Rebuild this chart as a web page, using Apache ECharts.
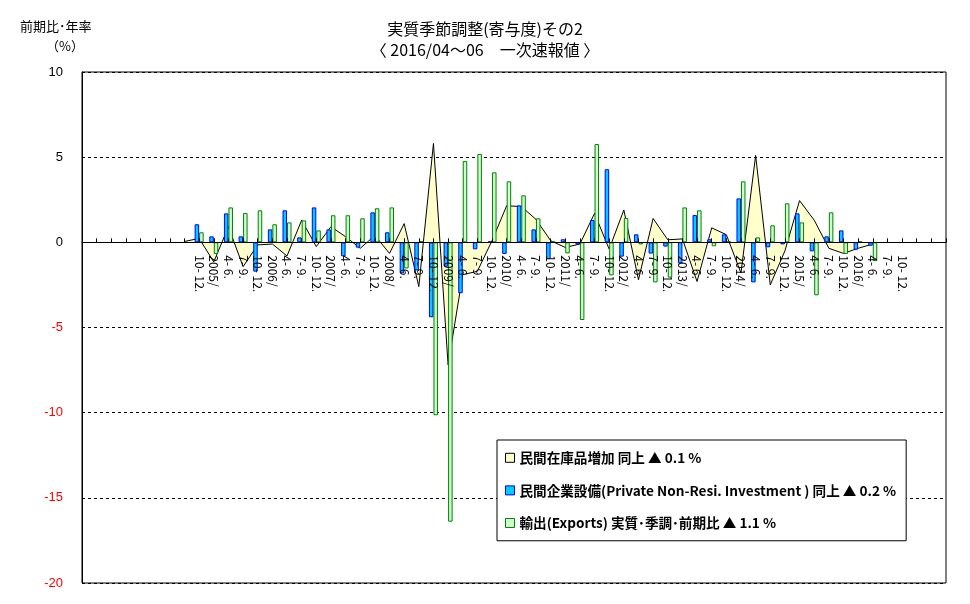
<!DOCTYPE html>
<html><head><meta charset="utf-8">
<script src="https://cdn.jsdelivr.net/npm/echarts@6/dist/echarts.min.js"></script>
<style>html,body{margin:0;padding:0;background:#fff}#c{width:970px;height:604px}</style>
</head><body><div id="c"></div>
<script>
// categories (60 positions; labels only where shown in the reference)
var categories = ['','','','','','','','',
 '10- 12.','2005/','4- 6.','7- 9.','10- 12.','2006/','4- 6.','7- 9.','10- 12.','2007/','4- 6.','7- 9.','10- 12.',
 '2008/','4- 6.','7- 9.','10- 12.','2009/','4- 6.','7- 9.','10- 12.','2010/','4- 6.','7- 9.','10- 12.',
 '2011/','4- 6.','7- 9.','10- 12.','2012/','4- 6.','7- 9.','10- 12.','2013/','4- 6.','7- 9.','10- 12.',
 '2014/','4- 6.','7- 9.','10- 12.','2015/','4- 6.','7- 9.','10- 12.','2016/','4- 6.','7- 9.','10- 12.','','',''];
var seriesNames = ['民間在庫品増加 同上 ▲ 0.1 %','民間企業設備(Private Non-Resi. Investment ) 同上 ▲ 0.2 %','輸出(Exports) 実質･季調･前期比 ▲ 1.1 %'];
var yTicks = {min: -20, max: 10, step: 5};
// inventory contribution (area), starting at index 7
var inventory = [null,null,null,null,null,null,null,0.05,
 0.23,-1.15,0.92,-1.43,-0.15,-0.1,-0.8,1.3,-0.25,0.92,0.33,-0.35,0.4,-0.65,1.1,-2.6,
 5.8,-7.2,-1.9,-1.7,0.1,2.15,2.1,1.35,0.1,-0.3,-0.1,1.7,-0.4,1.9,-2.2,1.4,
 0.15,0.2,-2.3,0.85,0.45,-1.8,5.1,-2.5,-0.5,2.45,1.3,-0.35,-0.65,-0.35,-0.1,null,null,null,null,null];
// private non-residential investment
var investment = [null,null,null,null,null,null,null,null,
 1.06,0.35,1.70,0.35,-1.72,0.76,1.88,0.29,2.05,0.76,-0.82,-0.31,1.76,0.59,-1.82,-1.65,
 -4.40,-1.43,-2.99,-0.41,0.05,-0.68,2.17,0.76,-0.98,0.18,-0.12,1.31,4.29,-0.84,0.47,-0.66,
 -0.25,-1.23,1.60,0.18,0.47,2.58,-2.35,-0.29,-0.12,1.70,-0.53,0.35,0.70,-0.43,-0.2,null,null,null,null,null];
// exports
var exportsData = [null,null,null,null,null,null,null,null,
 0.59,-0.69,2.05,1.72,1.88,1.06,1.17,1.29,0.70,1.59,1.59,1.41,2.0,2.05,-1.53,0.08,
 -10.15,-16.4,4.77,5.19,4.11,3.58,2.76,1.41,0.08,-0.65,-4.56,5.77,-1.94,1.43,-0.12,-2.35,
 -2.07,2.05,1.88,-0.23,0.08,3.58,0.29,1.00,2.29,1.17,-3.11,1.76,-0.68,0.06,-1.1,null,null,null,null,null];

var font = '"Noto Sans CJK JP", sans-serif';
var gridTop = 72, gridBottom = 21, H = 604;
var plotH = H - gridTop - gridBottom;
var zeroOffset = plotH * (0 - yTicks.min) / (yTicks.max - yTicks.min);
var chart = echarts.init(document.getElementById('c'));
chart.setOption({
  animation: false,
  backgroundColor: '#fff',
  title: {
    text: '実質季節調整(寄与度)その2',
    subtext: '〈 2016/04～06　一次速報値 〉',
    left: 'center', top: 16, itemGap: 5,
    textStyle: {fontFamily: font, fontSize: 16, fontWeight: 'normal', color: '#000'},
    subtextStyle: {fontFamily: font, fontSize: 16, color: '#000'}
  },
  graphic: [
    {type: 'text', left: 20, top: 20, style: {text: '前期比･年率', font: '13px ' + font, fill: '#000'}},
    {type: 'text', left: 46, top: 40, style: {text: '（%）', font: '13px ' + font, fill: '#000'}}
  ],
  legend: {
    orient: 'vertical', left: 497, top: 440,
    padding: [11, 10, 11, 8], itemGap: 19,
    itemWidth: 9, itemHeight: 9,
    backgroundColor: '#fff', borderColor: '#000', borderWidth: 1,
    textStyle: {fontFamily: font, fontSize: 13.6, fontWeight: 'bold', color: '#000'},
    data: [
      {name: seriesNames[0], icon: 'rect', itemStyle: {color: '#ffffcc', borderColor: '#000', borderWidth: 1}},
      {name: seriesNames[1], icon: 'rect', itemStyle: {color: '#00ccff', borderColor: '#0000ff', borderWidth: 1}},
      {name: seriesNames[2], icon: 'rect', itemStyle: {color: '#ccffcc', borderColor: '#008000', borderWidth: 1}}
    ]
  },
  grid: {left: 82, right: 24, top: gridTop, bottom: gridBottom, containLabel: false, outerBoundsMode: 'none',
         show: true, borderColor: '#000', borderWidth: 1, backgroundColor: 'transparent'},
  xAxis: {
    type: 'category', data: categories, boundaryGap: false, z: 10,
    position: 'bottom', offset: -zeroOffset,
    axisLine: {onZero: false, lineStyle: {color: '#000', width: 1}},
    axisTick: {show: true, inside: true, length: 4, interval: 0, lineStyle: {color: '#000'}},
    axisLabel: {interval: 0, rotate: -90, margin: 13, fontFamily: font, fontSize: 12, color: '#000',
                hideOverlap: false},
    splitLine: {show: false}
  },
  yAxis: {
    type: 'value', min: yTicks.min, max: yTicks.max, interval: yTicks.step,
    axisLine: {show: true, lineStyle: {color: '#000'}},
    axisTick: {show: false},
    axisLabel: {margin: 19, fontFamily: 'Liberation Sans, sans-serif', fontSize: 13,
      color: function (v) { return Number(v) < 0 ? '#ff0000' : '#000'; }},
    splitLine: {show: true, lineStyle: {color: '#000', type: [3, 3], width: 1}}
  },
  series: [
    {name: seriesNames[0], type: 'line', data: inventory, symbol: 'none', z: 1,
     lineStyle: {color: '#000', width: 1}, itemStyle: {color: '#ffffcc'},
     areaStyle: {color: '#ffffcc', opacity: 1, origin: 0}},
    {name: seriesNames[1], type: 'bar', data: investment, barWidth: 4.5, barGap: '0%', z: 2,
     itemStyle: {color: '#00ccff', borderColor: '#0000ff', borderWidth: 1}},
    {name: seriesNames[2], type: 'bar', data: exportsData, barWidth: 4.5, barGap: '0%', z: 2,
     itemStyle: {color: '#ccffcc', borderColor: '#008000', borderWidth: 1}}
  ]
});
</script></body></html>
